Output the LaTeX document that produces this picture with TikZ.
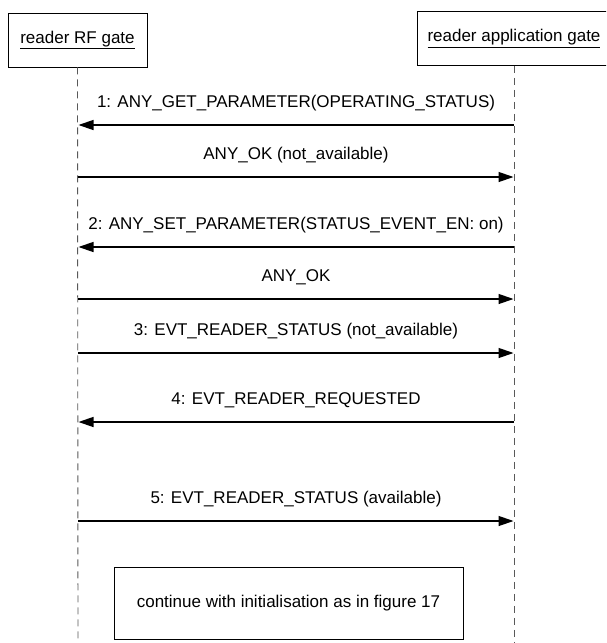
\documentclass[tikz,border=0pt]{standalone}
\usepackage{fontspec}
\setmainfont{Liberation Sans}
\usetikzlibrary{arrows.meta}
\tikzset{
  obj/.style={draw=black, line width=0.9pt, minimum width=139pt, minimum height=54pt, inner sep=0pt},
  life/.style={draw=black!65, line width=0.9pt, dash pattern=on 7pt off 5pt},
  msg/.style={draw=black, line width=1.3pt, -{Triangle[length=15pt,width=10pt]}, shorten >=0.5pt},
  lbl/.style={midway, anchor=base, yshift=18pt, inner sep=0pt, font=\fontsize{17pt}{20pt}\selectfont},
  note/.style={draw=black, line width=0.9pt, minimum width=349pt, minimum height=72pt, inner sep=0pt, font=\fontsize{17pt}{20pt}\selectfont}
}
\begin{document}
\begin{tikzpicture}[x=1pt,y=-1pt]
\useasboundingbox (0,0) rectangle (606,643);
\clip (0,0) rectangle (606,643);
% objects
\node[obj, font=\fontsize{17pt}{20pt}\selectfont] (rf) at (77.5,40) {\underline{reader RF gate}};
\node[obj, minimum width=194pt, font=\fontsize{17pt}{20pt}\selectfont] (app) at (514,38.5) {\underline{reader application gate}};
% lifelines
\coordinate (rfend) at (78,643);
\coordinate (append) at (514,643);
\draw[life] (rf.south) -- (rfend);
\draw[life] (app.south) -- (append);
% message coordinates
\foreach \n/\y in {1/125, 2/177, 3/247, 4/299, 5/353, 6/422, 7/521}{
  \coordinate (l\n) at (78,\y);
  \coordinate (r\n) at (514,\y);
}
\draw[msg] (r1) -- (l1) node[lbl] {1: ANY\_GET\_PARAMETER(OPERATING\_STATUS)};
\draw[msg] (l2) -- (r2) node[lbl] {ANY\_OK (not\_available)};
\draw[msg] (r3) -- (l3) node[lbl] {2: ANY\_SET\_PARAMETER(STATUS\_EVENT\_EN: on)};
\draw[msg] (l4) -- (r4) node[lbl] {ANY\_OK};
\draw[msg] (l5) -- (r5) node[lbl] {3: EVT\_READER\_STATUS (not\_available)};
\draw[msg] (r6) -- (l6) node[lbl] {4: EVT\_READER\_REQUESTED};
\draw[msg] (l7) -- (r7) node[lbl] {5: EVT\_READER\_STATUS (available)};
% note box
\node[note, fill=white] (cont) at (288.5,603) {continue with initialisation as in figure 17};
\end{tikzpicture}
\end{document}
